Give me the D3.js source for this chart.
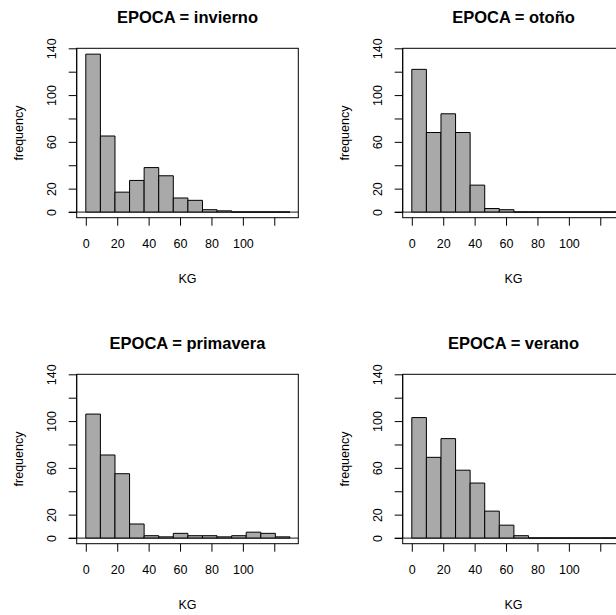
<!DOCTYPE html>
<html><head><meta charset="utf-8">
<script src="https://cdn.jsdelivr.net/npm/d3@7"></script>
<style>
body{margin:0;background:#fff}
svg{display:block}
text{font-family:"Liberation Sans",Arial,sans-serif;fill:#000}
</style>
</head><body>
<svg id="c" width="616" height="615"></svg>
<script>
// ---- data ----
const seasons = ["invierno", "otoño", "primavera", "verano"];
const breaks = [0, 9.29, 18.57, 27.86, 37.14, 46.43, 55.71, 65, 74.29, 83.57, 92.86, 102.14, 111.43, 120.71, 130];
const countsInvierno  = [135, 65, 17, 27, 38, 31, 12, 10, 2, 1, 0, 0, 0, 0];
const countsOtono     = [122, 68, 84, 68, 23, 3, 2, 0, 0, 0, 0, 0, 0, 0];
const countsPrimavera = [106, 71, 55, 12, 2, 1, 4, 2, 2, 1, 2, 5, 4, 1];
const countsVerano    = [103, 69, 85, 58, 47, 23, 11, 2, 0, 0, 0, 0, 0, 0];
const xTicks = [0, 20, 40, 60, 80, 100, 120];
const xTickLabels = ["0", "20", "40", "60", "80", "100", ""];
const yTicks = [0, 20, 40, 60, 80, 100, 120, 140];
const yTickLabels = ["0", "20", "", "60", "", "100", "", "140"];
const xTitle = "KG";
const yTitle = "frequency";
const titlePrefix = "EPOCA = ";

const allCounts = [countsInvierno, countsOtono, countsPrimavera, countsVerano];

// ---- layout ----
const svg = d3.select("#c");
const L = 76.7, R = 298.3, T = 48.3, B = 217.7, STEP = 326;
const x = d3.scaleLinear().domain([-5.8, 135.3]).range([L, R]);
const y = d3.scaleLinear().domain([-4.85, 140]).range([B, T]);
const fill = "#A9A9A9";
const FONT = '"Liberation Sans",Arial,sans-serif';

seasons.forEach((s, i) => {
  const col = i % 2, row = Math.floor(i / 2);
  const g = svg.append("g").attr("transform", `translate(${col * STEP},${row * STEP})`);
  const counts = allCounts[i];
  const bins = counts.map((c, k) => ({x0: breaks[k], x1: breaks[k + 1], c}));

  // zero line (extends from the 0 tick to the box edge)
  g.append("line").attr("x1", L - 8).attr("x2", R)
    .attr("y1", y(0)).attr("y2", y(0))
    .attr("stroke", "#444").attr("stroke-width", 1.3);

  // bars (paths so empty bins still draw as a flat outline)
  g.selectAll("path.bar").data(bins).enter().append("path")
    .attr("class", "bar")
    .attr("d", d => `M${x(d.x0)},${y(0)}H${x(d.x1)}V${y(d.c)}H${x(d.x0)}Z`)
    .attr("fill", fill)
    .attr("stroke", "#000")
    .attr("stroke-width", 1);

  // box
  g.append("rect")
    .attr("x", L).attr("y", T).attr("width", R - L).attr("height", B - T)
    .attr("fill", "none").attr("stroke", "#000").attr("stroke-width", 1);

  // x axis
  const xa = g.append("g").attr("transform", `translate(0,${B})`)
    .call(d3.axisBottom(x).tickValues(xTicks).tickSize(8).tickSizeOuter(0)
      .tickFormat((d, k) => xTickLabels[k]));
  xa.select(".domain").remove();
  xa.selectAll("line").attr("stroke", "#000");
  xa.selectAll("text").attr("y", 30.6).attr("dy", null)
    .attr("font-size", "12.5px").attr("font-family", FONT).attr("fill", "#000");

  // y axis
  const ya = g.append("g").attr("transform", `translate(${L},0)`)
    .call(d3.axisLeft(y).tickValues(yTicks).tickSize(8).tickSizeOuter(0)
      .tickFormat((d, k) => yTickLabels[k]));
  ya.select(".domain").remove();
  ya.selectAll("line").attr("stroke", "#000");
  ya.selectAll("text")
    .attr("x", null).attr("dy", null)
    .attr("transform", "translate(-20.7,0) rotate(-90)")
    .attr("text-anchor", "middle")
    .attr("font-size", "12.5px").attr("font-family", FONT).attr("fill", "#000");
  g.append("line").attr("x1", L).attr("x2", L).attr("y1", y(0)).attr("y2", y(140)).attr("stroke", "#000");

  // titles
  g.append("text").attr("x", (L + R) / 2).attr("y", 22.5)
    .attr("text-anchor", "middle").attr("font-size", "16.5px").attr("font-weight", "bold")
    .text(titlePrefix + s);
  g.append("text").attr("x", (L + R) / 2).attr("y", 283)
    .attr("text-anchor", "middle").attr("font-size", "12.5px").text(xTitle);
  g.append("text").attr("transform", `translate(22.5,${(T + B) / 2}) rotate(-90)`)
    .attr("text-anchor", "middle").attr("font-size", "12.5px").text(yTitle);
});
</script>
</body></html>
